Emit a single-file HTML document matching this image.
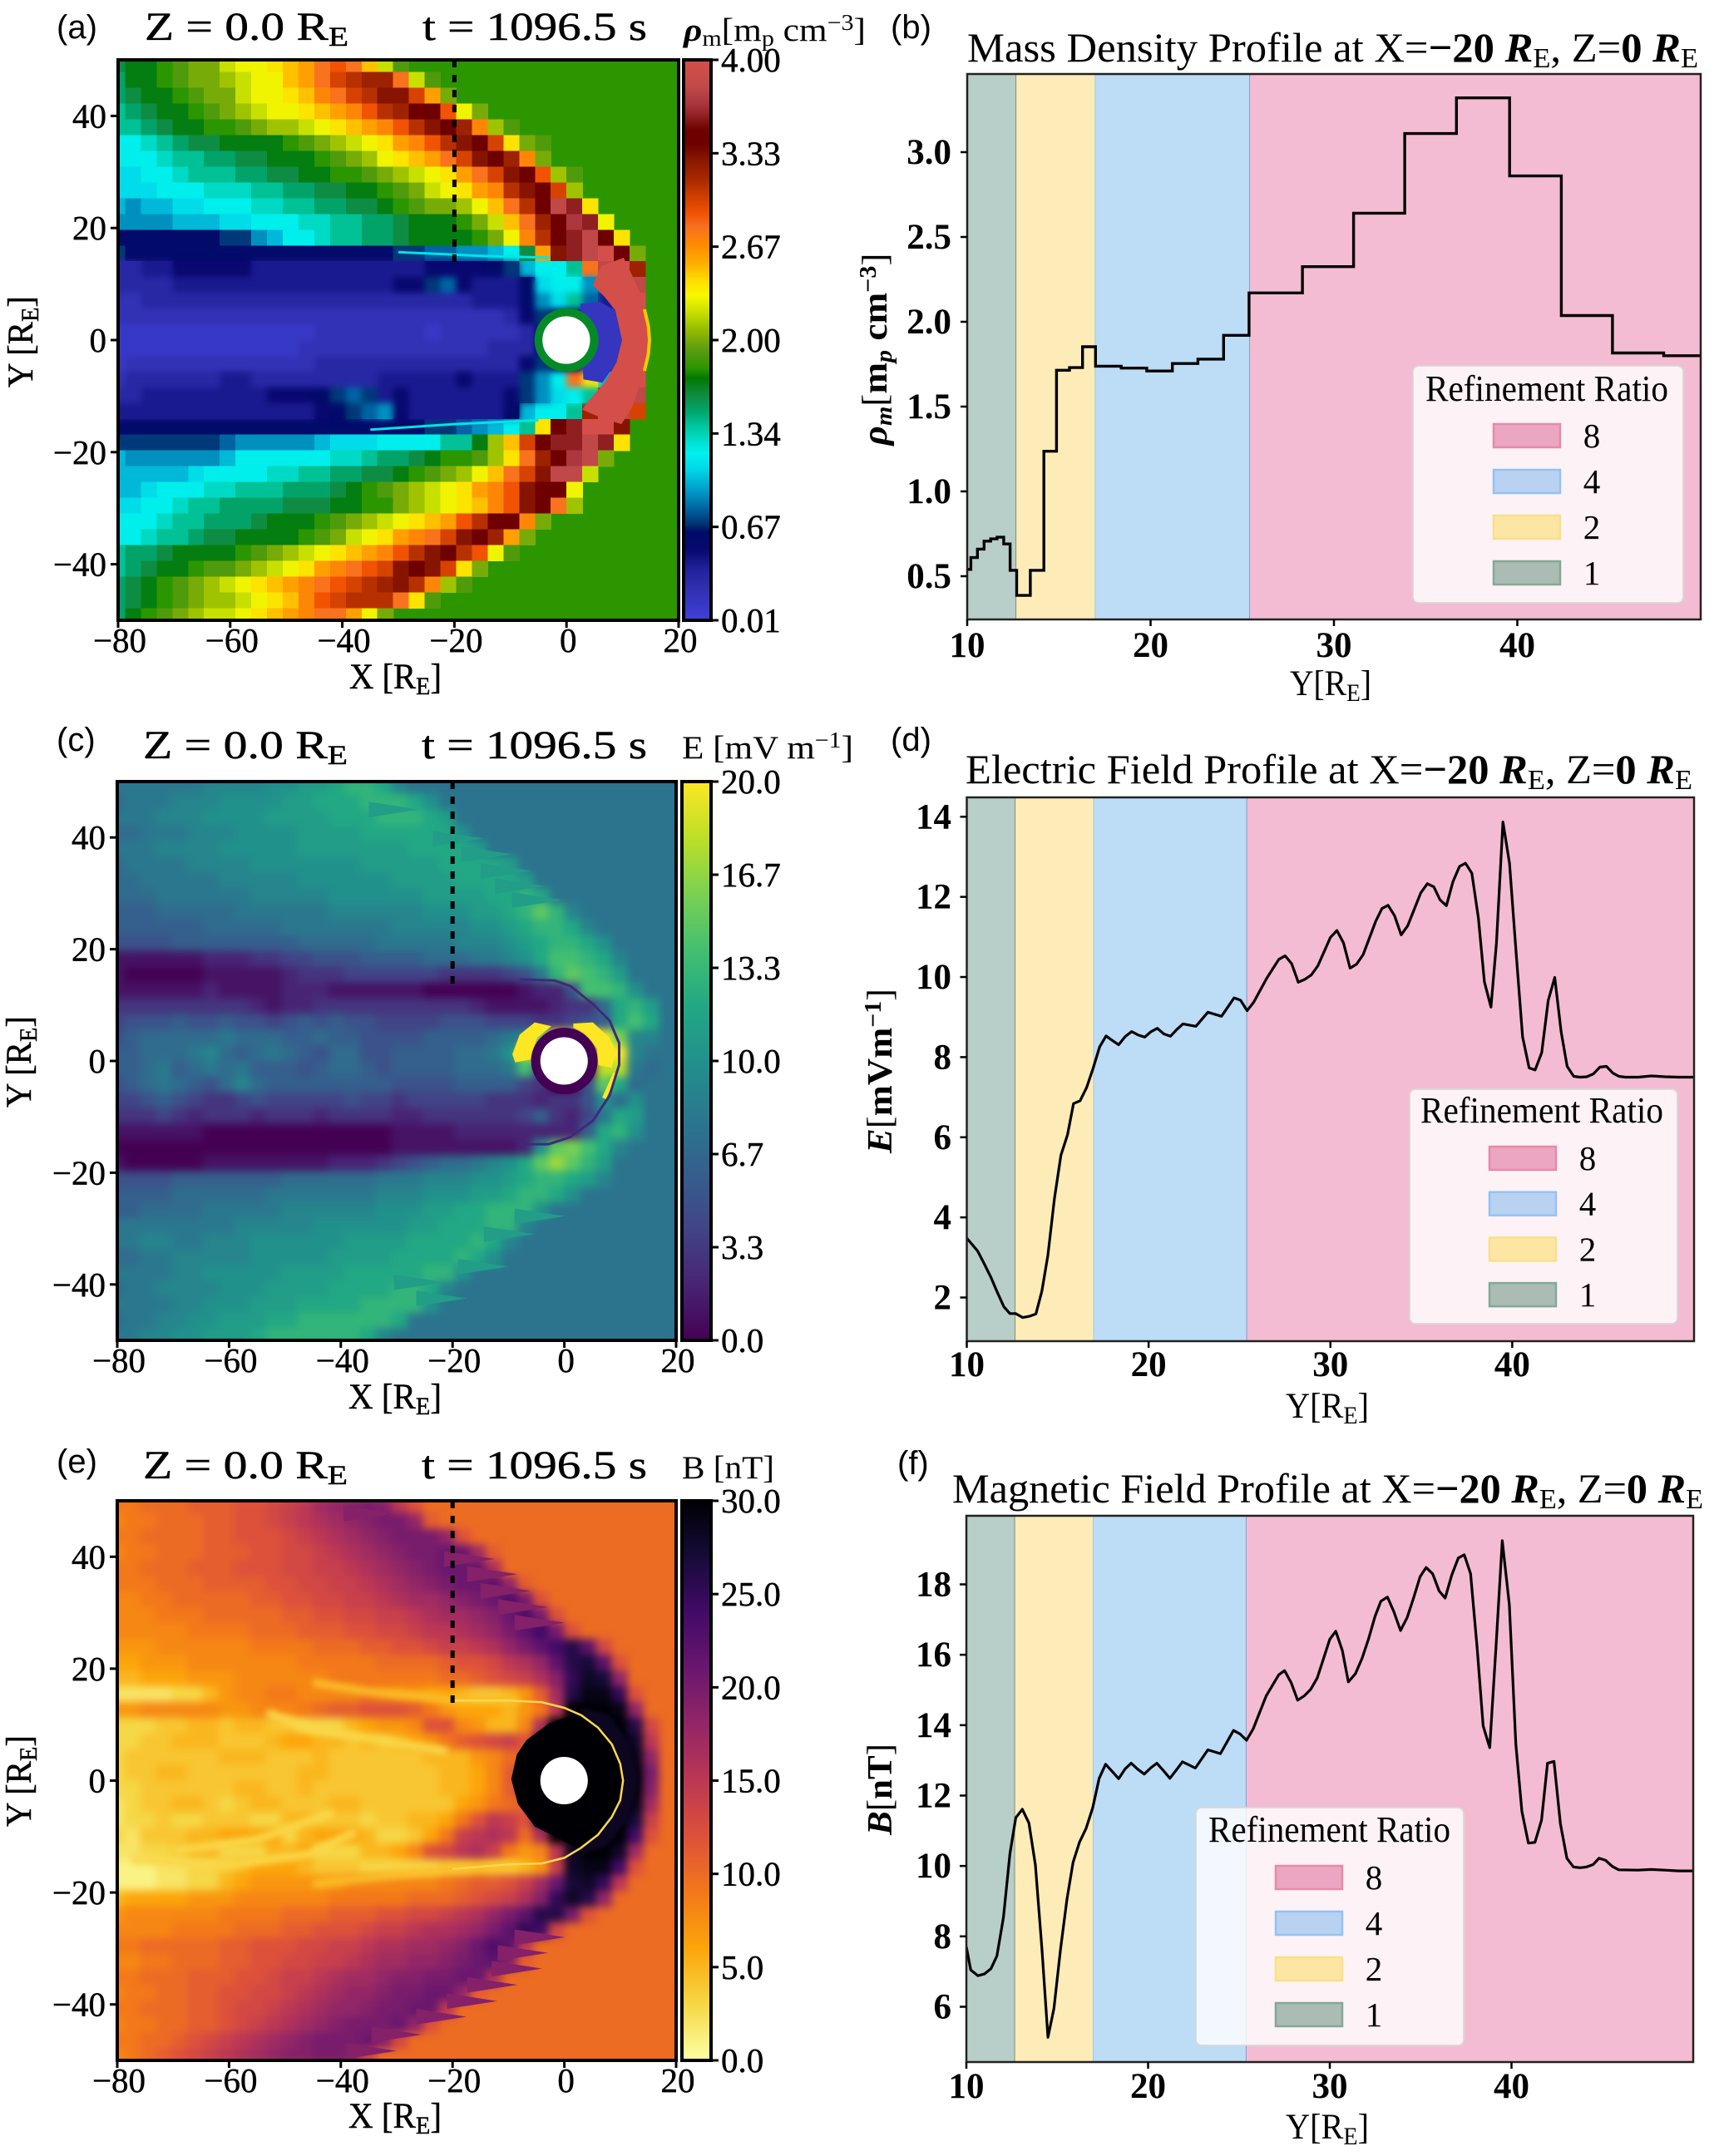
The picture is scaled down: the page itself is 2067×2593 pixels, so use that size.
<!DOCTYPE html>
<html lang="en">
<head>
<meta charset="utf-8">
<title>Magnetosphere simulation panels</title>
<style>
html,body{margin:0;padding:0;background:#fff}
svg{display:block;font-family:"Liberation Serif",serif;fill:#000}
.semi{stroke:#000;stroke-width:.45px}
.panel-tag{font-family:"Liberation Sans",sans-serif;font-size:40px}
</style>
</head>
<body>
<svg id="figure" width="2067" height="2593" viewBox="0 0 2067 2593">
<defs>
<filter id="soft5" filterUnits="userSpaceOnUse" x="0" y="0" width="2067" height="2593" color-interpolation-filters="sRGB"><feGaussianBlur stdDeviation="5"/></filter>
<filter id="soft4" filterUnits="userSpaceOnUse" x="0" y="0" width="2067" height="2593" color-interpolation-filters="sRGB"><feGaussianBlur stdDeviation="4"/></filter>
<filter id="soft2" filterUnits="userSpaceOnUse" x="0" y="0" width="2067" height="2593" color-interpolation-filters="sRGB"><feGaussianBlur stdDeviation="2"/></filter>
<clipPath id="clip-a"><rect x="142" y="72" width="674" height="674"/></clipPath>
<clipPath id="clip-c"><rect x="141" y="940" width="672" height="672"/></clipPath>
<clipPath id="clip-e"><rect x="141" y="1805" width="672" height="673"/></clipPath>
<clipPath id="clip-b"><rect x="1163" y="89" width="882" height="656"/></clipPath>
<clipPath id="clip-d"><rect x="1162.5" y="959" width="874.5" height="654"/></clipPath>
<clipPath id="clip-f"><rect x="1162" y="1823" width="874" height="657"/></clipPath>
</defs>
<g id="marks"></g>

<!-- panel a text -->
<text class="panel-tag" x="68" y="46">(a)</text>
<text class="semi" x="174" y="48" font-size="48" textLength="245" lengthAdjust="spacingAndGlyphs">Z = 0.0 R<tspan dy="7" font-size="33">E</tspan></text>
<text class="semi" x="508" y="48" font-size="48" textLength="270" lengthAdjust="spacingAndGlyphs">t = 1096.5 s</text>
<text x="822" y="49" font-size="39" textLength="219" lengthAdjust="spacingAndGlyphs"><tspan font-style="italic" font-weight="bold">ρ</tspan><tspan dy="6" font-size="27">m</tspan><tspan dy="-6">[m</tspan><tspan dy="6" font-size="27">p</tspan><tspan dy="-6"> cm</tspan><tspan dy="-13" font-size="27">−3</tspan><tspan dy="13">]</tspan></text>
<text class="semi" x="420" y="828" font-size="43" textLength="111" lengthAdjust="spacingAndGlyphs">X [R<tspan dy="7" font-size="30">E</tspan><tspan dy="-7">]</tspan></text>
<text class="semi" transform="translate(39,411) rotate(-90)" text-anchor="middle" font-size="43" textLength="110" lengthAdjust="spacingAndGlyphs">Y [R<tspan dy="7" font-size="30">E</tspan><tspan dy="-7">]</tspan></text>

<!-- panel b text -->
<text class="panel-tag" x="1071" y="46">(b)</text>
<text x="1163" y="74" font-size="50" textLength="879" lengthAdjust="spacingAndGlyphs">Mass Density Profile at X=<tspan font-weight="bold">−20 </tspan><tspan font-weight="bold" font-style="italic">R</tspan><tspan dy="7" font-size="34">E</tspan><tspan dy="-7">, Z=</tspan><tspan font-weight="bold">0 </tspan><tspan font-weight="bold" font-style="italic">R</tspan><tspan dy="7" font-size="34">E</tspan></text>
<text x="1551" y="836" font-size="43" textLength="98" lengthAdjust="spacingAndGlyphs">Y[R<tspan dy="7" font-size="30">E</tspan><tspan dy="-7">]</tspan></text>
<text transform="translate(1066,420) rotate(-90)" text-anchor="middle" font-size="42" font-weight="bold" textLength="231" lengthAdjust="spacingAndGlyphs"><tspan font-style="italic">ρ</tspan><tspan dy="6" font-size="28" font-style="italic">m</tspan><tspan dy="-6" font-weight="normal">[</tspan>m<tspan dy="6" font-size="28" font-style="italic">p</tspan><tspan dy="-6"> cm</tspan><tspan dy="-13" font-size="28">−3</tspan><tspan dy="13" font-weight="normal">]</tspan></text>
<text x="1714" y="482" font-size="44" textLength="292" lengthAdjust="spacingAndGlyphs">Refinement Ratio</text>

<!-- panel c text -->
<text class="panel-tag" x="68" y="903">(c)</text>
<text class="semi" x="172" y="912" font-size="48" textLength="246" lengthAdjust="spacingAndGlyphs">Z = 0.0 R<tspan dy="7" font-size="33">E</tspan></text>
<text class="semi" x="507" y="912" font-size="48" textLength="271" lengthAdjust="spacingAndGlyphs">t = 1096.5 s</text>
<text x="820" y="912" font-size="39" textLength="206" lengthAdjust="spacingAndGlyphs">E [mV m<tspan dy="-13" font-size="27">−1</tspan><tspan dy="13">]</tspan></text>
<text class="semi" x="419" y="1694" font-size="43" textLength="112" lengthAdjust="spacingAndGlyphs">X [R<tspan dy="7" font-size="30">E</tspan><tspan dy="-7">]</tspan></text>
<text class="semi" transform="translate(37,1277) rotate(-90)" text-anchor="middle" font-size="43" textLength="110" lengthAdjust="spacingAndGlyphs">Y [R<tspan dy="7" font-size="30">E</tspan><tspan dy="-7">]</tspan></text>

<!-- panel d text -->
<text class="panel-tag" x="1071" y="903">(d)</text>
<text x="1161" y="942" font-size="50" textLength="874" lengthAdjust="spacingAndGlyphs">Electric Field Profile at X=<tspan font-weight="bold">−20 </tspan><tspan font-weight="bold" font-style="italic">R</tspan><tspan dy="7" font-size="34">E</tspan><tspan dy="-7">, Z=</tspan><tspan font-weight="bold">0 </tspan><tspan font-weight="bold" font-style="italic">R</tspan><tspan dy="7" font-size="34">E</tspan></text>
<text x="1546" y="1705" font-size="43" textLength="100" lengthAdjust="spacingAndGlyphs">Y[R<tspan dy="7" font-size="30">E</tspan><tspan dy="-7">]</tspan></text>
<text transform="translate(1072,1288) rotate(-90)" text-anchor="middle" font-size="42" font-weight="bold" textLength="198" lengthAdjust="spacingAndGlyphs"><tspan font-style="italic">E</tspan><tspan font-weight="normal">[</tspan>mVm<tspan dy="-13" font-size="28">−1</tspan><tspan dy="13" font-weight="normal">]</tspan></text>
<text x="1708" y="1350" font-size="44" textLength="292" lengthAdjust="spacingAndGlyphs">Refinement Ratio</text>

<!-- panel e text -->
<text class="panel-tag" x="68" y="1771">(e)</text>
<text class="semi" x="172" y="1778" font-size="48" textLength="246" lengthAdjust="spacingAndGlyphs">Z = 0.0 R<tspan dy="7" font-size="33">E</tspan></text>
<text class="semi" x="507" y="1778" font-size="48" textLength="271" lengthAdjust="spacingAndGlyphs">t = 1096.5 s</text>
<text x="820" y="1778" font-size="39" textLength="111" lengthAdjust="spacingAndGlyphs">B [nT]</text>
<text class="semi" x="419" y="2559" font-size="43" textLength="112" lengthAdjust="spacingAndGlyphs">X [R<tspan dy="7" font-size="30">E</tspan><tspan dy="-7">]</tspan></text>
<text class="semi" transform="translate(37,2142) rotate(-90)" text-anchor="middle" font-size="43" textLength="110" lengthAdjust="spacingAndGlyphs">Y [R<tspan dy="7" font-size="30">E</tspan><tspan dy="-7">]</tspan></text>

<!-- panel f text -->
<text class="panel-tag" x="1079" y="1773">(f)</text>
<text x="1145" y="1807" font-size="50" textLength="903" lengthAdjust="spacingAndGlyphs">Magnetic Field Profile at X=<tspan font-weight="bold">−20 </tspan><tspan font-weight="bold" font-style="italic">R</tspan><tspan dy="7" font-size="34">E</tspan><tspan dy="-7">, Z=</tspan><tspan font-weight="bold">0 </tspan><tspan font-weight="bold" font-style="italic">R</tspan><tspan dy="7" font-size="34">E</tspan></text>
<text x="1546" y="2572" font-size="43" textLength="100" lengthAdjust="spacingAndGlyphs">Y[R<tspan dy="7" font-size="30">E</tspan><tspan dy="-7">]</tspan></text>
<text transform="translate(1072,2152) rotate(-90)" text-anchor="middle" font-size="42" font-weight="bold" textLength="110" lengthAdjust="spacingAndGlyphs"><tspan font-style="italic">B</tspan><tspan font-weight="normal">[</tspan>nT<tspan font-weight="normal">]</tspan></text>
<text x="1453" y="2215" font-size="44" textLength="291" lengthAdjust="spacingAndGlyphs">Refinement Ratio</text>
</svg>

<script>
/* ---------- tick labels ---------- */
const heatXTicks = [-80, -60, -40, -20, 0, 20];
const heatYTicks = [-40, -20, 0, 20, 40];
const rhoBarTicks = ['4.00', '3.33', '2.67', '2.00', '1.34', '0.67', '0.01'];
const efieldBarTicks = ['20.0', '16.7', '13.3', '10.0', '6.7', '3.3', '0.0'];
const bfieldBarTicks = ['30.0', '25.0', '20.0', '15.0', '10.0', '5.0', '0.0'];
const profileXTicks = [10, 20, 30, 40];
const densityYTicks = ['0.5', '1.0', '1.5', '2.0', '2.5', '3.0'];
const efieldYTicks = ['2', '4', '6', '8', '10', '12', '14'];
const bfieldYTicks = ['6', '8', '10', '12', '14', '16', '18'];
const legendLabels = ['8', '4', '2', '1'];
const refinementBandEdges = [10, 12.68, 17, 25.42, 50];

/* ---------- panel (b): stepped density profile ---------- */
const densityEdges = [10,10.2,10.56,10.92,11.28,11.63,11.99,12.34,12.7,13.44,14.18,14.87,15.58,16.29,17,18.4,19.79,21.19,22.58,23.98,25.37,28.28,31.07,33.86,36.68,39.58,42.4,45.19,47.98,50];
const densityValues = [0.54,0.61,0.66,0.707,0.72,0.73,0.69,0.535,0.387,0.535,1.237,1.714,1.73,1.853,1.738,1.727,1.71,1.754,1.78,1.92,2.17,2.325,2.64,3.11,3.32,2.86,2.037,1.816,1.8];

/* ---------- panel (d): electric field profile ---------- */
const efieldY = [10,10.6,10.96,11.32,11.68,12.04,12.37,12.69,13.08,13.44,13.8,14.13,14.46,14.82,15.18,15.54,15.87,16.23,16.59,16.95,17.31,17.66,18.02,18.35,18.71,19.07,19.43,19.79,20.12,20.48,20.84,21.2,21.53,21.89,22.25,22.6,23.26,24.01,24.7,25.06,25.42,25.78,26.5,27.16,27.51,27.87,28.23,28.59,28.95,29.31,30,30.36,30.72,31.08,31.44,31.8,32.49,32.84,33.17,33.53,33.89,34.25,34.97,35.33,35.69,36.02,36.38,36.74,37.1,37.43,37.78,38.14,38.47,38.83,39.13,39.49,39.85,40.21,40.57,40.93,41.26,41.62,41.98,42.34,42.69,43.02,43.38,43.74,44.1,44.46,44.82,45.18,45.54,45.87,46.23,46.92,47.66,48.41,49.16,50];
const efieldValues = [3.48,3.16,2.84,2.51,2.13,1.77,1.6,1.6,1.5,1.53,1.59,2.16,3.05,4.47,5.55,6.06,6.84,6.91,7.24,7.72,8.26,8.53,8.41,8.31,8.51,8.64,8.55,8.5,8.63,8.72,8.58,8.52,8.68,8.83,8.8,8.77,9.12,9.02,9.48,9.42,9.16,9.37,9.97,10.44,10.53,10.33,9.87,9.94,10.05,10.28,10.99,11.16,10.85,10.22,10.32,10.56,11.39,11.71,11.79,11.53,11.05,11.28,12.1,12.33,12.25,11.93,11.78,12.38,12.76,12.84,12.59,11.47,9.88,9.25,10.85,13.87,12.84,10.62,8.51,7.73,7.68,8.11,9.42,9.99,8.63,7.77,7.52,7.5,7.51,7.58,7.75,7.77,7.6,7.52,7.5,7.5,7.53,7.51,7.5,7.5];

/* ---------- panel (f): magnetic field profile ---------- */
const bfieldY = [10,10.24,10.63,10.99,11.35,11.68,12.04,12.4,12.72,13.08,13.44,13.8,14.16,14.49,14.82,15.18,15.54,15.87,16.23,16.59,16.95,17.31,17.66,18.02,18.38,18.74,19.07,19.43,19.79,20.15,20.48,20.84,21.2,21.56,21.89,22.25,22.6,23.29,23.98,24.7,25.06,25.42,25.78,26.5,27.19,27.51,27.87,28.23,28.59,28.95,29.31,30,30.33,30.69,31.02,31.41,31.77,32.13,32.49,32.81,33.17,33.53,33.89,34.25,34.61,34.97,35.3,35.66,36.02,36.35,36.71,37.07,37.4,37.75,38.11,38.44,38.8,39.16,39.49,39.88,40.24,40.57,40.93,41.29,41.65,41.98,42.34,42.69,43.05,43.41,43.77,44.13,44.49,44.82,45.18,45.54,45.9,46.95,47.69,48.44,49.19,50];
const bfieldValues = [7.7,7.05,6.88,6.93,7.08,7.44,8.54,10.35,11.37,11.61,11.22,10.03,7.63,5.13,5.95,7.63,9.06,10.1,10.68,11.07,11.65,12.49,12.89,12.69,12.48,12.76,12.92,12.75,12.61,12.79,12.92,12.71,12.49,12.73,12.96,12.87,12.78,13.3,13.19,13.85,13.75,13.57,13.89,14.83,15.43,15.55,15.21,14.71,14.83,15.02,15.34,16.44,16.67,16.12,15.23,15.46,15.89,16.44,17.09,17.52,17.64,17.22,16.69,17.05,17.61,18.22,18.48,18.3,17.81,17.61,18.26,18.75,18.84,18.3,16.19,13.98,13.36,16.32,19.24,17.42,13.46,11.55,10.65,10.67,11.3,12.92,12.97,11.2,10.22,9.97,9.95,9.97,10.04,10.22,10.16,9.99,9.89,9.88,9.9,9.88,9.86,9.86];

/* ---------- panel (a): density heatmap, tenths of m_p/cm^3; omitted trailing cells are solar wind ---------- */
const rhoRows = [
[16,17,17,18,19,20,20,22,23,23,24,25,26,28,29,28,25,22,19],
[15,17,17,18,19,20,20,21,22,23,23,25,26,28,30,31,32,32,28,22,19],
[15,16,17,17,18,19,20,20,22,23,23,24,25,27,28,30,31,33,33,30,26,20],
[14,15,16,17,17,18,19,20,21,22,23,23,24,25,26,27,29,31,32,34,34,29,23,20],
[14,14,15,16,17,17,18,18,19,20,21,21,22,23,24,25,26,27,29,31,33,34,32,27,21,19],
[12,12,13,14,15,16,16,17,17,17,17,18,19,20,21,22,23,24,26,27,29,31,33,34,30,24,20,19],
[12,12,12,13,14,14,15,15,16,16,17,17,17,18,19,20,21,23,24,25,26,28,30,33,34,32,27,20],
[11,11,12,12,13,14,14,14,15,15,16,16,17,17,18,18,19,20,21,22,23,24,26,28,30,33,34,29,21,19],
[11,11,11,12,12,12,13,13,13,14,14,15,15,16,16,17,17,18,19,20,22,23,24,26,27,31,33,35,30,21],
[10,9,10,10,11,11,12,12,12,13,13,14,14,15,15,16,16,17,18,19,20,20,21,23,25,28,31,34,38,36,24],
[9,9,9,9,10,10,10,11,11,12,12,12,13,13,14,14,15,15,16,17,17,17,18,20,22,25,28,32,35,37,36,23],
[6,6,6,6,6,6,6,7,7,9,10,12,12,13,14,14,15,15,16,17,17,17,17,18,20,23,27,31,34,36,38,34,24],
[7,6,6,6,6,6,6,6,6,6,6,6,6,6,6,6,6,6,7,7,8,8,9,9,10,12,16,26,33,36,38,40,35,20],
[3,3,4,4,5,5,5,5,5,4,4,4,4,4,4,4,4,4,4,4,5,5,5,5,6,7,10,12,12,14,28,38,40,32],
[3,3,3,3,4,4,4,4,4,4,4,4,4,4,4,4,4,4,5,5,7,8,5,4,4,4,6,11,12,12,9,36,40,38],
[2,2,3,3,3,3,3,3,3,3,3,3,3,3,3,3,3,3,3,3,3,3,3,4,4,4,6,9,11,14,8,4,40,40],
[2,2,2,2,2,2,2,2,2,2,2,2,2,2,2,2,2,2,2,2,2,2,2,2,2,3,5,7,6,6,4,2,6,40],
[1,1,1,1,1,1,1,1,1,1,1,1,1,2,2,2,2,2,2,2,1,2,2,2,2,2,3,6,6,6,6,2,2,40],
[1,1,1,1,1,1,1,1,1,1,1,1,2,2,2,2,2,2,2,2,2,2,2,2,3,3,3,6,6,6,6,2,2,40],
[1,2,2,2,2,2,2,2,2,2,2,2,2,3,3,3,3,3,3,3,3,3,3,3,3,3,5,7,6,6,8,3,7,40],
[2,3,3,3,3,3,3,4,4,3,3,3,3,3,3,3,3,4,4,4,4,4,5,4,4,4,7,9,12,28,24,10,40,40],
[3,3,4,4,4,4,4,4,4,4,5,5,5,6,7,8,7,4,5,4,4,4,4,4,4,5,7,9,11,12,14,35,40,38],
[4,4,4,4,4,4,4,4,4,4,4,4,4,5,6,7,8,9,5,4,4,4,4,4,4,6,10,12,12,14,32,40,38,30],
[6,6,6,6,6,6,6,6,6,6,6,6,6,6,6,6,6,6,6,6,7,7,8,9,10,12,14,24,34,36,40,40,33],
[7,7,7,7,7,7,7,8,9,9,9,9,9,10,11,11,11,12,12,12,12,14,14,17,21,25,30,34,36,36,38,36,24],
[10,9,9,9,9,9,9,10,12,12,12,12,12,12,13,13,14,15,15,16,17,18,18,19,21,24,28,32,34,37,38,20],
[10,10,10,10,10,11,12,12,12,12,13,13,14,14,15,15,16,16,17,18,19,20,21,23,25,28,30,33,38,38,22],
[10,10,11,12,12,12,13,13,14,14,14,15,15,15,16,17,18,19,20,21,22,23,24,26,27,29,33,34,34,23],
[11,11,12,12,13,14,14,15,15,15,15,16,16,16,17,17,18,18,20,21,22,23,24,25,27,29,33,34,28,21],
[12,12,12,13,14,14,15,15,15,16,17,17,17,18,19,20,21,22,23,24,25,26,29,31,34,34,27,20],
[12,12,13,14,14,15,16,16,17,17,17,17,18,19,20,22,23,24,26,27,28,30,33,34,32,26,20],
[14,15,15,16,17,17,17,17,18,19,20,21,22,23,24,25,26,27,29,31,33,34,31,29,23,19],
[14,15,16,17,17,18,19,19,20,21,22,23,24,26,27,28,29,30,33,34,33,30,24,20],
[15,16,17,18,19,20,21,22,23,24,25,26,27,28,29,30,31,32,33,31,27,21,19],
[15,16,17,18,19,20,21,21,22,23,24,25,27,29,30,31,31,31,28,24,19],
[15,17,18,19,20,21,22,22,23,24,25,26,27,28,28,26,23,20]
];

/* ---------- panel (c): electric field heatmap, mV/m ---------- */
const efieldRows = [
[8,8,8,8,8,8,9,9,9,9,10,10,11,11,12,13,13,12,9],
[7,8,8,8,9,9,9,10,10,10,10,11,11,12,12,12,13,13,13,12,10],
[8,8,8,9,9,9,10,10,10,10,11,11,11,11,12,12,12,13,13,13,12,11],
[7,7,8,8,8,9,9,9,10,10,10,10,11,11,11,11,12,12,12,12,12,12,10],
[8,8,8,9,9,9,9,10,10,10,10,10,11,11,11,11,11,11,11,12,12,12,12,11],
[7,8,8,8,8,9,9,9,9,10,10,10,10,10,10,10,11,11,11,11,11,12,12,12,12,11],
[7,7,8,8,8,8,8,9,9,9,9,9,10,10,10,10,10,10,11,11,11,11,12,12,12,12,11],
[7,7,7,8,8,8,8,8,8,9,9,9,9,9,10,10,10,10,10,10,11,11,11,11,12,12,13,12],
[6,6,6,7,7,7,7,7,8,8,8,8,8,8,9,9,9,9,9,9,10,10,10,11,11,12,13,15,13,9],
[6,6,6,6,6,6,7,7,7,7,7,8,8,8,8,8,8,8,9,9,9,9,9,10,10,11,12,13,13,12,9],
[5,5,5,5,6,6,6,6,6,6,6,6,7,7,7,7,7,8,8,8,8,8,9,9,9,10,11,12,13,13,12,10],
[1,1,1,1,1,1,2,2,2,3,3,4,4,5,5,5,6,6,6,6,7,7,7,8,8,9,10,12,14,14,13,12,9],
[1,0,0,0,0,0,1,1,1,1,1,2,3,3,3,4,4,4,4,4,4,3,3,3,3,4,5,8,13,15,14,13,11],
[1,1,1,1,1,1,2,1,1,1,1,2,2,2,1,1,1,1,1,1,0,0,0,0,0,0,1,2,2,5,14,14,13,10],
[3,3,3,3,3,3,3,3,3,2,1,2,2,3,3,3,3,3,3,3,3,3,3,2,1,1,1,1,2,3,3,7,12,13,11],
[4,5,5,5,6,5,5,6,5,5,4,5,6,5,6,5,5,4,4,4,4,5,5,5,4,4,4,3,3,4,5,6,12,14,12],
[5,6,7,7,7,7,7,8,7,7,7,6,6,7,6,6,5,5,5,5,6,6,6,6,7,8,9,16,20,20,20,20,16,9,9],
[6,6,7,7,7,8,9,7,6,7,8,7,6,5,7,7,5,5,6,6,6,6,7,7,8,10,17,20,0,0,0,20,20,9],
[6,6,7,8,6,7,8,7,8,6,6,6,5,6,7,7,6,5,6,6,6,6,7,7,7,8,14,5,0,0,0,18,18,8,7],
[5,6,7,8,7,6,5,7,9,7,6,6,6,6,6,6,6,6,5,5,5,5,6,6,6,6,4,3,0,0,5,15,12,7],
[4,4,5,6,5,4,3,3,4,5,4,4,4,4,4,5,4,4,3,4,4,4,4,4,3,3,3,2,3,3,5,10,7,10],
[3,3,3,4,3,2,3,3,3,2,3,3,3,2,3,3,3,3,2,2,3,3,3,3,3,3,4,6,3,2,4,8,12,11],
[1,1,1,1,1,1,0,0,0,0,0,0,0,0,0,0,0,0,1,1,1,1,2,2,2,2,2,2,2,2,6,12,13,10],
[0,0,0,0,0,0,0,0,0,0,0,0,0,0,0,0,0,0,1,1,1,1,1,1,1,1,2,10,15,16,14,12,9],
[1,0,0,0,0,0,1,1,1,1,1,1,1,1,2,2,2,3,4,5,6,7,7,8,9,10,12,15,17,15,13,11],
[5,5,5,5,6,6,6,6,6,6,6,7,7,7,7,7,7,8,8,8,9,9,9,10,10,11,12,13,13,12,11,9],
[6,6,6,6,7,7,7,7,7,7,8,8,8,8,8,8,8,9,9,9,10,10,10,11,11,12,13,13,12,10],
[6,6,7,7,7,7,8,8,8,8,8,9,9,9,9,9,9,10,10,10,11,11,12,12,13,13,13,10],
[8,8,8,8,8,8,8,8,9,9,9,9,9,10,10,10,10,10,10,11,11,12,12,12,13,13,9],
[8,8,9,9,8,8,9,9,9,10,10,10,10,10,10,11,11,11,11,12,12,12,12,13,12,9],
[7,7,8,8,9,9,9,9,9,10,10,10,10,10,11,11,11,11,12,12,12,12,13,12,10],
[8,8,8,8,9,9,10,10,10,10,10,11,11,11,11,12,12,12,12,12,13,13,10],
[7,8,8,9,9,9,9,10,10,10,11,11,11,11,12,12,12,12,13,13,12,9],
[8,8,8,8,9,9,10,10,10,11,11,11,12,12,12,12,13,13,13,13,10],
[7,8,8,9,9,10,10,11,11,11,12,12,13,13,13,13,13,13,12],
[8,8,9,9,10,10,11,11,11,12,13,13,13,13,13,13,12,9]
];

/* ---------- panel (e): magnetic field heatmap, nT ---------- */
const bfieldRows = [
[9,9,10,10,10,11,11,11,12,12,13,14,15,17,18,19,20,19,15,12],
[8,9,9,10,10,10,11,11,12,12,13,14,15,16,17,18,19,20,20,18,11],
[9,9,10,10,10,10,11,11,12,12,12,13,14,15,16,17,18,19,20,20,20,18,12],
[8,9,9,10,10,10,11,11,11,12,12,13,13,14,15,16,17,18,19,20,20,21,21,17,11],
[9,9,10,10,10,11,11,11,12,12,12,13,13,14,14,15,16,17,18,19,20,21,21,21,16],
[9,9,9,10,10,10,11,11,11,11,12,12,13,13,14,14,15,16,17,18,19,20,21,21,22,18,11],
[8,8,9,9,10,10,10,10,10,11,11,12,12,13,13,14,14,15,16,17,17,18,19,20,21,23,20,12],
[8,8,8,9,9,9,10,10,10,10,10,11,11,12,12,13,13,14,14,15,16,17,17,18,19,21,23,20,12],
[8,8,8,8,8,9,9,9,9,10,10,10,11,11,11,12,12,13,13,14,15,15,16,17,18,20,22,24,20,12],
[7,7,7,8,8,8,8,8,8,9,9,9,9,10,10,10,11,11,12,12,13,14,14,15,16,18,20,22,24,26,22,13],
[6,6,7,7,7,8,8,8,8,8,8,8,9,9,9,9,9,10,10,10,10,11,12,12,13,15,16,18,22,26,27,22,12],
[5,5,6,6,6,7,7,7,8,8,8,8,8,8,9,9,9,9,9,9,9,10,10,11,12,13,14,16,19,25,28,27,18],
[2,2,2,2,3,3,5,7,8,8,9,9,8,8,8,8,9,8,7,7,6,6,5,4,4,5,7,11,17,26,29,29,25,12],
[7,7,8,8,8,8,8,7,7,8,8,8,9,10,11,11,12,12,12,11,9,7,6,6,6,5,7,9,15,30,30,30,29,18],
[3,3,3,4,4,5,5,4,5,5,4,4,3,3,3,5,6,7,7,8,12,12,8,7,5,5,8,16,30,30,30,30,30,26,13],
[3,3,4,4,5,5,5,4,4,4,5,6,6,5,5,4,5,4,5,6,7,9,11,12,13,14,12,23,30,30,30,30,30,28,15],
[3,4,4,4,4,4,4,5,5,5,4,4,4,5,4,4,4,4,4,4,5,5,5,7,8,10,11,30,30,30,30,30,30,29,18],
[3,4,4,5,5,4,4,4,4,4,4,4,5,5,4,4,4,4,4,4,4,5,5,6,8,11,17,30,30,30,30,30,30,30,20],
[3,3,4,4,4,4,4,4,5,5,4,4,5,4,4,4,4,4,4,4,4,5,5,6,8,11,17,30,30,30,30,30,30,30,19],
[2,3,4,4,5,5,4,3,4,5,5,4,4,4,5,5,4,4,4,4,4,4,6,7,9,10,11,30,30,30,30,30,30,29,17],
[2,3,3,4,3,3,4,4,4,3,3,5,5,4,4,4,3,4,4,5,5,6,9,12,15,14,12,24,30,30,30,30,30,27,14],
[3,2,4,4,4,5,5,6,6,6,6,3,5,6,6,6,5,3,3,4,6,9,14,15,16,15,10,16,30,30,30,30,30,24,12],
[2,2,3,3,4,5,5,3,3,3,5,5,6,3,3,3,5,5,6,8,12,13,15,16,14,9,7,8,15,28,30,30,28,17],
[1,1,1,2,2,3,3,4,5,6,6,6,5,4,4,4,3,3,3,3,3,4,4,5,4,4,5,7,14,28,29,29,24,12],
[1,1,1,2,2,3,3,5,6,7,7,7,7,7,7,8,8,8,8,8,8,9,10,11,11,12,14,17,21,27,28,25,15],
[5,6,6,6,6,7,7,7,8,8,8,8,8,8,9,9,9,9,9,10,10,10,11,12,13,14,16,19,25,28,26,18],
[7,8,8,8,8,8,8,9,9,9,9,10,10,10,11,11,11,12,12,13,13,14,15,16,18,20,22,26,26,20,12],
[8,8,8,8,9,9,9,9,10,10,10,11,11,12,12,12,13,14,14,15,16,16,17,18,20,22,25,24,13],
[9,9,10,10,10,10,10,11,11,12,12,12,13,13,14,14,15,16,16,17,17,18,19,21,23,22,15],
[8,8,9,9,10,10,10,11,11,12,12,13,13,14,14,15,16,17,17,18,18,19,20,21,22,19,11],
[9,9,10,10,10,11,11,11,12,12,13,14,14,15,16,17,17,18,19,19,20,20,21,21,16],
[8,9,9,10,10,11,11,12,12,13,13,14,15,16,17,18,18,19,20,20,21,21,18,11],
[9,9,10,10,10,11,11,12,13,13,14,15,16,17,18,18,19,20,20,21,21,15],
[8,9,9,10,10,11,11,12,13,14,15,16,17,18,19,20,20,20,21,18,12],
[9,9,10,10,11,12,13,14,15,16,17,18,19,20,20,20,21,19,13],
[8,9,10,11,12,13,14,15,16,17,18,19,19,20,20,19,14]
];

/* ---------- fine structure traced in simulation coordinates (X, Y in R_E) ---------- */
const sheathOutline = [[6.2,13.2],[10.2,14.7],[12.1,10.7],[13.6,7.3],[14.7,0],[13.6,-6.5],[11.7,-12],[9.8,-15],[6.5,-14],[2.8,-12.4],[3.8,-11],[6.8,-7.6],[8.9,-4],[9.9,0],[8.7,5.3],[6.8,7.7],[4.7,9.8]];
const sheathRim = [[13.9,5.5],[14.6,2.5],[14.8,0],[14.6,-2.5],[13.9,-5.5]];
const daysideOutline = [[2.5,6.5],[6,6.8],[8.7,5.3],[9.9,0],[8.9,-4],[6.4,-7.6],[3,-7]];
const tailEdgeNorth = [[-30,15.7],[-15,15],[-3,14.7]];
const tailEdgeSouth = [[-35,-16],[-20,-15],[-5,-14.3]];
const electricCrescentLeft = [[-9.3,1.2],[-8,4.7],[-5.3,6.9],[-2.3,6.2],[-4.8,4.2],[-5.8,1.7],[-6.05,0.25],[-8.8,-0.25]];
const electricCrescentRight = [[1.6,6.7],[5.1,6.9],[8,4.2],[9.2,1.7],[8.5,-1.2],[6.1,-0.75],[5.85,2.2],[4.1,4.7],[1.6,6]];
const electricStreak = [[7.1,-6.7],[8.3,-4],[9.1,-2.2]];
const electricBoundary = [[-8,14.6],[-1.8,14.4],[1.1,13.4],[5.1,10.2],[8.1,7.2],[9.8,3.2],[9.8,-0.7],[8.1,-6.2],[5.1,-10.7],[1.1,-13.6],[-2.8,-14.9],[-8,-14.9]];
const electricShockTeeth = [[-26,45],[-14.5,39.8],[-9.4,37],[-6,34],[-3.4,31.3],[-0.4,28.8],[-17.5,-42.5],[-21.5,-39.6],[-10,-36.8],[-5.4,-31],[0.1,-27.8]];
const magneticShockTeeth = [[-30.5,47.7],[-12.5,39.6],[-8.4,36.9],[-6,33.9],[-2.9,31],[0.1,28.2],[0.1,-28],[-2.9,-30.8],[-4,-33.6],[-8.4,-36.5],[-12,-39.4],[-17.5,-42.2],[-25.5,-45.4],[-30,-48.3]];
const magneticOuterBand = [[3.1,13.1],[8.1,11.7],[11.6,6.7],[13.5,0.25],[11.6,-6.7],[7.6,-11.7],[3.1,-13.1]];
const magneticCore = [[-9.5,0.25],[-8.5,4.7],[-6.8,7.2],[-2.8,10.2],[0.6,11.4],[5.1,10.7],[7.6,8.2],[9.6,4.7],[10.5,0.25],[9.8,-4.2],[7.6,-8.2],[5.1,-10.2],[2.1,-11.9],[-1.3,-10.2],[-5.3,-8.2],[-8.3,-4.2]];
const magneticCurrentSheet = [[-20,14.3],[-10,14.3],[-4,14],[0,13],[3,11.7],[6,9.5],[8.5,6.5],[10,3],[10.5,0],[10,-3.5],[8.5,-6.5],[6,-9.7],[3,-12],[0,-13.8],[-4,-14.8],[-10,-15],[-20,-15.8]];
const magneticTailGlowNorth = [[-45,17.5],[-35,15.9],[-25,15],[-20,14.3],[-8,14.3]];
const magneticTailGlowSouth = [[-45,-18.5],[-30,-16.8],[-20,-15.8],[-8,-15]];
const magneticStreakA = [[-53.2,12.1],[-45.3,9.2],[-32.9,7.2],[-21,5.2]];
const magneticStreakB = [[-70,-12.6],[-55.2,-10.6],[-41.3,-5.7]];
const magneticStreakC = [[-77.5,-14.1],[-60.2,-15.1],[-45.3,-13.1],[-37.3,-9.1]];

/* ---------- colour scales ---------- */
const rhoStops = [[0.01,'#4040d8'],[0.1,'#3838c8'],[0.23,'#3030b0'],[0.37,'#20209a'],[0.5,'#080870'],[0.63,'#000a68'],[0.68,'#003070'],[0.79,'#0060a0'],[0.9,'#0090c0'],[1,'#00b8d8'],[1.08,'#00d8e8'],[1.19,'#00f0f0'],[1.27,'#00e0d0'],[1.38,'#00c8a0'],[1.48,'#00a870'],[1.61,'#108a40'],[1.73,'#007a00'],[1.8,'#2b9600'],[1.93,'#5a9c10'],[2.06,'#90b800'],[2.2,'#c8e000'],[2.32,'#f8f800'],[2.44,'#ffd800'],[2.54,'#ffb000'],[2.67,'#ff8c00'],[2.81,'#f87020'],[2.91,'#f05000'],[3.02,'#d04000'],[3.15,'#a82800'],[3.28,'#8b1800'],[3.4,'#6e0000'],[3.5,'#6e0000'],[3.58,'#8a1a1a'],[3.68,'#a8343c'],[3.81,'#c24a4a'],[4,'#d64e4a']];
const viridisStops = [[0,'#440154'],[2,'#482475'],[4,'#414487'],[6,'#355f8d'],[8,'#2a788e'],[10,'#21918c'],[12,'#22a884'],[14,'#44bf70'],[16,'#7ad151'],[18,'#bddf26'],[20,'#fde725']];
const infernoStops = [[0,'#fcffa4'],[3,'#f6d746'],[6,'#fca50a'],[9,'#f37819'],[12,'#dd513a'],[15,'#bc3754'],[18,'#932667'],[21,'#6a176e'],[24,'#420a68'],[27,'#160b39'],[30,'#000004']];

/* ---------- helpers ---------- */
const fig = document.getElementById('figure');
const marks = document.getElementById('marks');
const svgNS = fig.namespaceURI;
const FONT_TICK = 41;

function node(tag, parent) {
  const el = document.createElementNS(svgNS, tag);
  parent.appendChild(el);
  return el;
}
function setAll(el, props) {
  for (const k in props) el.setAttribute(k, props[k]);
  return el;
}
function axisScale(d0, d1, p0, p1) {
  return v => p0 + (v - d0) / (d1 - d0) * (p1 - p0);
}
function hexRgb(h) {
  return [parseInt(h.slice(1,3),16), parseInt(h.slice(3,5),16), parseInt(h.slice(5,7),16)];
}
function colorScale(stops) {
  return v => {
    if (v <= stops[0][0]) return stops[0][1];
    for (let i = 1; i < stops.length; i++) {
      if (v <= stops[i][0]) {
        const t = (v - stops[i-1][0]) / (stops[i][0] - stops[i-1][0]);
        const a = hexRgb(stops[i-1][1]), b = hexRgb(stops[i][1]);
        return 'rgb(' + a.map((c, k) => Math.round(c + (b[k] - c) * t)).join(',') + ')';
      }
    }
    return stops[stops.length-1][1];
  };
}
function pointList(list, sx, sy) {
  return list.map(p => sx(p[0]).toFixed(1) + ',' + sy(p[1]).toFixed(1)).join(' ');
}
function minusText(s) {
  return String(s).replace('-', '\u2212');
}
function drawTickLabel(parent, x, y, str, anchor, size, bold, semi) {
  const t = node('text', parent);
  setAll(t, {x: x, y: y, 'text-anchor': anchor, 'font-size': size});
  if (bold) t.setAttribute('font-weight', 'bold');
  if (semi) t.setAttribute('class', 'semi');
  t.textContent = minusText(str);
  
  
  return t;
}
function drawTickMark(parent, x1, y1, x2, y2, w) {
  const l = node('line', parent);
  setAll(l, {x1: x1, y1: y1, x2: x2, y2: y2, stroke: '#000', 'stroke-width': w});
  
  
}

/* ---------- heatmap panels ---------- */
const CELL = 2.8125, GRID_LEFT = -81.5625, GRID_TOP = 50.625;

function heatCells(parent, rows, colorOf, sx, sy, scaleVal, rowFrom, rowTo, colTo, crisp) {
  for (let i = rowFrom; i <= rowTo; i++) {
    const row = rows[i];
    for (let j = 0; j < row.length && j <= colTo; j++) {
      const x0 = sx(GRID_LEFT + j * CELL), x1 = sx(GRID_LEFT + (j + 1) * CELL);
      const y0 = sy(GRID_TOP - i * CELL), y1 = sy(GRID_TOP - (i + 1) * CELL);
      const r = node('rect', parent);
      setAll(r, {x: x0.toFixed(2), y: y0.toFixed(2), width: (x1 - x0 + 0.6).toFixed(2), height: (y1 - y0 + 0.6).toFixed(2), fill: colorOf(row[j] * scaleVal)});
      if (crisp) r.setAttribute('shape-rendering', 'crispEdges');
      
      
    }
  }
}

function heatFrame(cfg) {
  const g = node('g', marks);
  
  
  const sx = axisScale(-80, 20, cfg.left, cfg.right);
  const sy = axisScale(-50, 50, cfg.bottom, cfg.top);
  const colorOf = colorScale(cfg.stops);
  const plot = node('g', g);
  plot.setAttribute('clip-path', 'url(#' + cfg.clip + ')');
  
  
  const bg = node('rect', plot);
  setAll(bg, {x: cfg.left, y: cfg.top, width: cfg.right - cfg.left, height: cfg.bottom - cfg.top, fill: colorOf(cfg.background)});
  
  
  return {g, plot, sx, sy, colorOf};
}

function poly(parent, list, sx, sy, fill, name) {
  const p = node('polygon', parent);
  setAll(p, {points: pointList(list, sx, sy), fill: fill});
  
  
  return p;
}
function strokeLine(parent, list, sx, sy, color, w, name) {
  const p = node('polyline', parent);
  setAll(p, {points: pointList(list, sx, sy), fill: 'none', stroke: color, 'stroke-width': w, 'stroke-linejoin': 'round'});
  
  
  return p;
}
function shockTeeth(parent, tips, sx, sy, fill) {
  tips.forEach(t => {
    const tri = node('polygon', parent);
    const spec = [[t[0], t[1]], [t[0] - 9, t[1] + 1.4], [t[0] - 9, t[1] - 1.4]];
    setAll(tri, {points: pointList(spec, sx, sy), fill: fill});
    
    
  });
}
function earthBody(parent, sx, sy, ringColor, ringR) {
  if (ringColor) {
    const ring = node('circle', parent);
    setAll(ring, {cx: sx(0), cy: sy(0), r: (sx(ringR) - sx(0)), fill: ringColor});
    
    
  }
  const c = node('circle', parent);
  setAll(c, {cx: sx(-0.05), cy: sy(0), r: (sx(4.25) - sx(0)), fill: '#fff'});
  
  
}

function heatFinish(cfg, h) {
  const {g, sx, sy} = h;
  const dash = node('line', h.plot);
  setAll(dash, {x1: sx(-20), y1: cfg.top, x2: sx(-20), y2: sy(13.5), stroke: '#000', 'stroke-width': 5, 'stroke-dasharray': '9 9'});
  
  

  const frame = node('rect', g);
  setAll(frame, {x: cfg.left, y: cfg.top, width: cfg.right - cfg.left, height: cfg.bottom - cfg.top, fill: 'none', stroke: '#000', 'stroke-width': 4});
  
  

  heatXTicks.forEach(v => {
    drawTickMark(g, sx(v), cfg.bottom, sx(v), cfg.bottom + 9, 3);
    drawTickLabel(g, sx(v) + 2, cfg.xTickY, v, 'middle', FONT_TICK, false, true);
  });
  heatYTicks.forEach(v => {
    drawTickMark(g, cfg.left, sy(v), cfg.left - 9, sy(v), 3);
    drawTickLabel(g, cfg.left - 14, sy(v) + 14, v, 'end', FONT_TICK, false, true);
  });

  /* colour bar */
  const gradId = cfg.name + '-grad';
  const grad = node('linearGradient', fig.querySelector('defs'));
  setAll(grad, {id: gradId, x1: 0, y1: 1, x2: 0, y2: 0});
  const maxV = cfg.stops[cfg.stops.length - 1][0];
  cfg.stops.forEach(s => {
    const st = node('stop', grad);
    setAll(st, {offset: s[0] / maxV, 'stop-color': s[1]});
  });
  const bar = node('rect', g);
  setAll(bar, {x: cfg.barLeft, y: cfg.top, width: cfg.barRight - cfg.barLeft, height: cfg.bottom - cfg.top, fill: 'url(#' + gradId + ')', stroke: '#000', 'stroke-width': 4});
  
  
  const n = cfg.barTicks.length - 1;
  const barY = axisScale(0, n, cfg.top, cfg.bottom);
  cfg.barTicks.forEach((label, k) => {
    drawTickMark(g, cfg.barRight, barY(k), cfg.barRight + 9, barY(k), 3);
    drawTickLabel(g, cfg.barRight + 12, barY(k) + 14, label, 'start', FONT_TICK, false, true);
  });
}

/* panel a */
const cfgA = {name:'density-slice', clip:'clip-a', left:142, right:816, top:72, bottom:746, barLeft:822, barRight:855, xTickY:784, stops:rhoStops, background:1.8, barTicks:rhoBarTicks};
const panelA = heatFrame(cfgA);
heatCells(panelA.plot, rhoRows, panelA.colorOf, panelA.sx, panelA.sy, 0.1, 0, rhoRows.length - 1, 99, true);
const tailA = node('g', panelA.plot);
tailA.setAttribute('filter', 'url(#soft4)');


heatCells(tailA, rhoRows, panelA.colorOf, panelA.sx, panelA.sy, 0.1, 13, 13, 25, false);
heatCells(tailA, rhoRows, panelA.colorOf, panelA.sx, panelA.sy, 0.1, 14, 21, 30, false);
heatCells(tailA, rhoRows, panelA.colorOf, panelA.sx, panelA.sy, 0.1, 22, 22, 25, false);
strokeLine(panelA.plot, tailEdgeNorth, panelA.sx, panelA.sy, '#00e4e8', 3, 'tail-edge-north');
strokeLine(panelA.plot, tailEdgeSouth, panelA.sx, panelA.sy, '#00e4e8', 3, 'tail-edge-south');
poly(panelA.plot, sheathOutline, panelA.sx, panelA.sy, panelA.colorOf(3.98), 'magnetosheath-core');
strokeLine(panelA.plot, sheathRim, panelA.sx, panelA.sy, '#f8c800', 4, 'shock-rim');
poly(panelA.plot, daysideOutline, panelA.sx, panelA.sy, panelA.colorOf(0.15), 'dayside-magnetosphere');
earthBody(panelA.plot, panelA.sx, panelA.sy, '#068a28', 5.7);
heatFinish(cfgA, panelA);

/* panel c */
const cfgC = {name:'electric-field-slice', clip:'clip-c', left:141, right:813, top:940, bottom:1612, barLeft:820, barRight:855, xTickY:1650, stops:viridisStops, background:7.7, barTicks:efieldBarTicks};
const panelC = heatFrame(cfgC);
const cellsC = node('g', panelC.plot);
cellsC.setAttribute('filter', 'url(#soft5)');


heatCells(cellsC, efieldRows, panelC.colorOf, panelC.sx, panelC.sy, 1, 0, efieldRows.length - 1, 99, false);
shockTeeth(panelC.plot, electricShockTeeth, panelC.sx, panelC.sy, panelC.colorOf(11));
poly(panelC.plot, electricCrescentLeft, panelC.sx, panelC.sy, '#fde725', 'electric-crescent-nightside');
poly(panelC.plot, electricCrescentRight, panelC.sx, panelC.sy, '#fde725', 'electric-crescent-dayside');
strokeLine(panelC.plot, electricStreak, panelC.sx, panelC.sy, '#fde725', 5, 'electric-streak');
strokeLine(panelC.plot, electricBoundary, panelC.sx, panelC.sy, '#3f2a7a', 3, 'magnetopause-arc');
earthBody(panelC.plot, panelC.sx, panelC.sy, '#440154', 5.95);
heatFinish(cfgC, panelC);

/* panel e */
const cfgE = {name:'magnetic-field-slice', clip:'clip-e', left:141, right:813, top:1805, bottom:2478, barLeft:820, barRight:855, xTickY:2516, stops:infernoStops, background:9.9, barTicks:bfieldBarTicks};
const panelE = heatFrame(cfgE);
const cellsE = node('g', panelE.plot);
cellsE.setAttribute('filter', 'url(#soft5)');


heatCells(cellsE, bfieldRows, panelE.colorOf, panelE.sx, panelE.sy, 1, 0, bfieldRows.length - 1, 99, false);
shockTeeth(panelE.plot, magneticShockTeeth, panelE.sx, panelE.sy, panelE.colorOf(19));
const streaksE = node('g', panelE.plot);
streaksE.setAttribute('filter', 'url(#soft4)');


strokeLine(streaksE, magneticStreakA, panelE.sx, panelE.sy, '#f9d84a', 10, 'tail-streak');
strokeLine(streaksE, magneticStreakB, panelE.sx, panelE.sy, '#f9d84a', 10, 'tail-streak');
strokeLine(streaksE, magneticStreakC, panelE.sx, panelE.sy, '#f9d84a', 10, 'tail-streak');
strokeLine(streaksE, magneticTailGlowNorth, panelE.sx, panelE.sy, '#fbc02a', 9, 'current-sheet-glow');
strokeLine(streaksE, magneticTailGlowSouth, panelE.sx, panelE.sy, '#fbc02a', 9, 'current-sheet-glow');
const softE = poly(panelE.plot, magneticOuterBand, panelE.sx, panelE.sy, '#0c0620', 'outer-dark-band');
softE.setAttribute('filter', 'url(#soft2)');
poly(panelE.plot, magneticCore, panelE.sx, panelE.sy, '#000004', 'magnetosphere-core');
strokeLine(panelE.plot, magneticCurrentSheet, panelE.sx, panelE.sy, '#fcd850', 2.5, 'magnetopause-current-sheet');
earthBody(panelE.plot, panelE.sx, panelE.sy, null, 0);
heatFinish(cfgE, panelE);

/* ---------- profile panels ---------- */
const bandFills = ['#b8cec8', '#feecb8', '#bddcf6', '#f4bcd2'];
const bandEdges = ['#7f8f78', '#a8c4d8', '#7f9fd0', '#f4bcd2'];
const legendFills = ['#eba6c2', '#b9d2f1', '#fde6a4', '#aabcb4'];
const legendStrokes = ['#e48aaa', '#94c2f2', '#f8e088', '#84a896'];

function profileFrame(cfg) {
  const g = node('g', marks);
  
  
  const sx = axisScale(10, 50, cfg.left, cfg.right);
  const sy = axisScale(cfg.yRef[0], cfg.yRef[1], cfg.yRefPx[0], cfg.yRefPx[1]);
  const plot = node('g', g);
  plot.setAttribute('clip-path', 'url(#' + cfg.clip + ')');
  
  
  for (let i = 0; i < 4; i++) {
    const b = node('rect', plot);
    const x0 = sx(refinementBandEdges[i]), x1 = sx(refinementBandEdges[i + 1]);
    setAll(b, {x: x0, y: cfg.top, width: x1 - x0, height: cfg.bottom - cfg.top, fill: bandFills[i]});
    
    
    const e = node('line', plot);
    setAll(e, {x1: x1, x2: x1, y1: cfg.top, y2: cfg.bottom, stroke: bandEdges[i], 'stroke-width': 2});
    
    
  }
  return {g, plot, sx, sy};
}

function profileFinish(cfg, h) {
  const {g, sx, sy} = h;
  const L = cfg.legend;
  const box = node('rect', g);
  setAll(box, {x: L.x, y: L.y, width: L.w, height: L.h, rx: 7, fill: 'rgba(255,255,255,0.8)', stroke: 'rgba(215,215,215,0.85)', 'stroke-width': 2});
  
  
  legendLabels.forEach((lab, i) => {
    const yc = L.firstRow + i * L.rowStep;
    const patch = node('rect', g);
    setAll(patch, {x: L.patchX, y: yc - 14, width: 80, height: 28, fill: legendFills[i], stroke: legendStrokes[i], 'stroke-width': 2.5});
    
    
    const t = node('text', g);
    setAll(t, {x: L.labelX, y: yc + 14, 'text-anchor': 'middle', 'font-size': 41});
    t.textContent = lab;
    
    
  });
  const frame = node('rect', g);
  setAll(frame, {x: cfg.left, y: cfg.top, width: cfg.right - cfg.left, height: cfg.bottom - cfg.top, fill: 'none', stroke: '#222', 'stroke-width': 2.5});
  
  
  profileXTicks.forEach(v => {
    drawTickMark(g, sx(v), cfg.bottom, sx(v), cfg.bottom + 8, 2.5);
    drawTickLabel(g, sx(v), cfg.xTickY, v, 'middle', 43, true, false);
  });
  cfg.yTicks.forEach(s => {
    const v = parseFloat(s);
    drawTickMark(g, cfg.left, sy(v), cfg.left - 8, sy(v), 2.5);
    drawTickLabel(g, 1144, sy(v) + 14, s, 'end', 43, true, false);
  });
}

/* panel b */
const cfgB = {name:'density-profile', clip:'clip-b', left:1163, right:2045, top:89, bottom:745, yRef:[0.5,3], yRefPx:[693,183], xTickY:790, yTicks:densityYTicks,
  legend:{x:1699, y:440, w:325, h:285, firstRow:524, rowStep:55, patchX:1796, labelX:1914}};
const panelB = profileFrame(cfgB);
const stepPts = [];
densityValues.forEach((v, i) => { stepPts.push([densityEdges[i], v]); stepPts.push([densityEdges[i + 1], v]); });
strokeLine(panelB.plot, stepPts, panelB.sx, panelB.sy, '#000', 3.4, 'density-step-line').setAttribute('stroke-linejoin', 'miter');
profileFinish(cfgB, panelB);

/* panel d */
const cfgD = {name:'electric-field-profile', clip:'clip-d', left:1162.5, right:2037, top:959, bottom:1613, yRef:[2,14], yRefPx:[1560.5,982.3], xTickY:1655, yTicks:efieldYTicks,
  legend:{x:1695, y:1310, w:322, h:282, firstRow:1393, rowStep:54.7, patchX:1791, labelX:1909}};
const panelD = profileFrame(cfgD);
const efieldPts = efieldY.map((y, i) => [y, efieldValues[i]]);
strokeLine(panelD.plot, efieldPts, panelD.sx, panelD.sy, '#000', 3.2, 'electric-field-line');
profileFinish(cfgD, panelD);

/* panel f */
const cfgF = {name:'magnetic-field-profile', clip:'clip-f', left:1162, right:2036, top:1823, bottom:2480, yRef:[6,18], yRefPx:[2413.5,1905.5], xTickY:2523, yTicks:bfieldYTicks,
  legend:{x:1438, y:2174, w:322, h:286, firstRow:2258, rowStep:55, patchX:1534, labelX:1652}};
const panelF = profileFrame(cfgF);
const bfieldPts = bfieldY.map((y, i) => [y, bfieldValues[i]]);
strokeLine(panelF.plot, bfieldPts, panelF.sx, panelF.sy, '#000', 3.2, 'magnetic-field-line');
profileFinish(cfgF, panelF);
</script>
</body>
</html>
